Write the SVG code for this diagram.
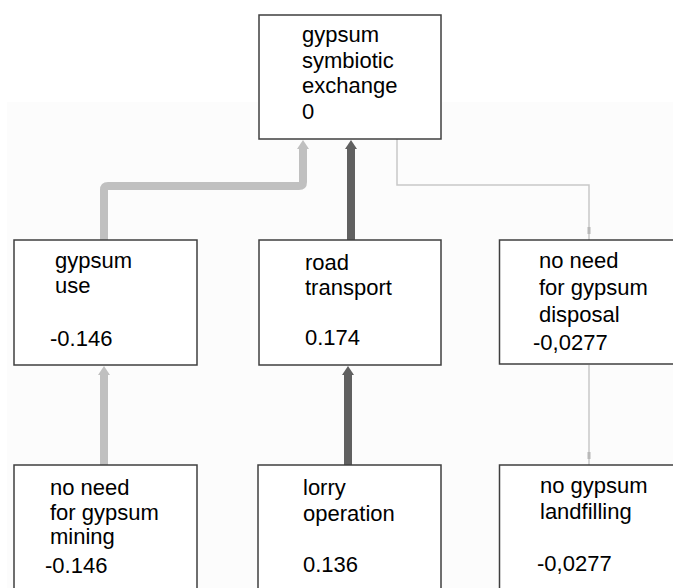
<svg xmlns="http://www.w3.org/2000/svg" width="673" height="588" viewBox="0 0 673 588">
<style>
.box{fill:#ffffff;stroke:#3f3f3f;stroke-width:1.5}
.t{font-family:"Liberation Sans",Arial,sans-serif;font-size:22px;fill:#000}
.nb{fill:#ffffff}
.light{fill:none;stroke:#c0c0c0;stroke-width:8}
.dark{fill:none;stroke:#606060;stroke-width:8}
.thin{fill:none;stroke:#c8c8c8;stroke-width:1.5}
.hl{fill:#c0c0c0}
.hd{fill:#606060}
.mk{fill:#b8b8b8}
</style>
<rect x="0" y="0" width="673" height="588" fill="#ffffff"/>
<rect x="7" y="102" width="666" height="486" fill="#fcfcfc"/>
<g id="connectors">
<path class="light" d="M104,240 V190 Q104,186 108,186 H299 Q303,186 303,182 V148"/>
<path class="hl" d="M297,149 L303,140 L309,149 Z"/>
<path class="dark" d="M351,240 V148"/>
<path class="hd" d="M345,149 L351,140 L357,149 Z"/>
<path class="thin" d="M397,139 V185 H589 V240"/>
<rect class="mk" x="587.5" y="227" width="3" height="7"/>
<path class="thin" d="M589,365 V465"/>
<rect class="mk" x="587.5" y="452" width="3" height="7"/>
<path class="light" d="M104,465 V374"/>
<path class="hl" d="M98,375 L104,366 L110,375 Z"/>
<path class="dark" d="M348,465 V374"/>
<path class="hd" d="M342,375 L348,366 L354,375 Z"/>
</g>
<g id="node-top">
<rect class="box" x="259" y="15" width="182" height="124"/>
<text class="t" x="302" y="42">gypsum</text>
<text class="t" x="302" y="67.5">symbiotic</text>
<text class="t" x="302" y="93">exchange</text>
<text class="t" x="302" y="118.5">0</text>
</g>
<g id="node-gypsum-use">
<rect class="box" x="14" y="240" width="183" height="125"/>
<text class="t" x="55" y="268">gypsum</text>
<text class="t" x="55" y="293">use</text>
<rect class="nb" x="48" y="323" width="77" height="29"/>
<text class="t" x="50" y="346">-0.146</text>
</g>
<g id="node-road">
<rect class="box" x="259" y="240" width="182" height="125"/>
<text class="t" x="305" y="270">road</text>
<text class="t" x="305" y="295">transport</text>
<rect class="nb" x="300" y="320" width="64" height="30"/>
<text class="t" x="305" y="345">0.174</text>
</g>
<g id="node-disposal">
<rect class="box" x="499.5" y="240" width="180" height="124"/>
<text class="t" x="539" y="268">no need</text>
<text class="t" x="539" y="295">for gypsum</text>
<text class="t" x="539" y="322">disposal</text>
<rect class="nb" x="532" y="332" width="87" height="26"/>
<text class="t" x="533" y="350">-0,0277</text>
</g>
<g id="node-mining">
<rect class="box" x="14" y="465" width="183" height="130"/>
<text class="t" x="50" y="495">no need</text>
<text class="t" x="50" y="520">for gypsum</text>
<text class="t" x="50" y="544">mining</text>
<rect class="nb" x="40" y="556" width="82" height="30"/>
<text class="t" x="45" y="573">-0.146</text>
</g>
<g id="node-lorry">
<rect class="box" x="258" y="465" width="183" height="130"/>
<text class="t" x="303" y="495">lorry</text>
<text class="t" x="303" y="521">operation</text>
<rect class="nb" x="298" y="548" width="68" height="32"/>
<text class="t" x="303" y="572">0.136</text>
</g>
<g id="node-landfill">
<rect class="box" x="499.5" y="465" width="180" height="130"/>
<text class="t" x="540" y="493">no gypsum</text>
<text class="t" x="540" y="519">landfilling</text>
<rect class="nb" x="523" y="548" width="105" height="30"/>
<text class="t" x="537" y="571">-0,0277</text>
</g>
</svg>
